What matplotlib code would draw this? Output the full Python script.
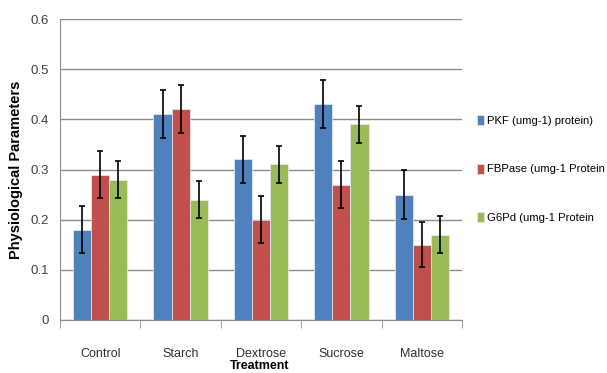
import matplotlib
matplotlib.use("Agg")
import matplotlib.pyplot as plt
import numpy as np

treatments = ["Control", "Starch", "Dextrose", "Sucrose", "Maltose"]
series_names = ["PKF (umg-1) protein)", "FBPase (umg-1 Protein", "G6Pd (umg-1 Protein"]
pkf = [0.18, 0.41, 0.32, 0.43, 0.25]
fbpase = [0.29, 0.42, 0.20, 0.27, 0.15]
g6pd = [0.28, 0.24, 0.31, 0.39, 0.17]
pkf_err = [0.047, 0.048, 0.047, 0.048, 0.049]
fbpase_err = [0.046, 0.048, 0.047, 0.047, 0.045]
g6pd_err = [0.037, 0.037, 0.037, 0.037, 0.037]
colors = ["#4F81BD", "#C0504D", "#9BBB59"]

plt.rcParams["font.family"] = ["Liberation Sans", "DejaVu Sans"]

fig = plt.figure(figsize=(6.07, 3.73), dpi=100)
ax = fig.add_axes([60 / 607, 1 - 320 / 373, 402 / 607, 301 / 373])

x = np.arange(len(treatments))
w = 0.225
for i, (vals, errs) in enumerate([(pkf, pkf_err), (fbpase, fbpase_err), (g6pd, g6pd_err)]):
    ax.bar(x + (i - 1) * w, vals, w, color=colors[i], edgecolor="#e8eef5", linewidth=0.5,
           label=series_names[i], zorder=2)
    ax.errorbar(x + (i - 1) * w, vals, yerr=errs, fmt="none", ecolor="black",
                elinewidth=1.2, capsize=2.5, capthick=1.2, zorder=3)

ax.set_xlim(-0.5, len(treatments) - 0.5)
ax.set_ylim(0, 0.6)
ax.set_yticks(np.arange(0, 0.61, 0.1))
ax.set_yticklabels(["0", "0.1", "0.2", "0.3", "0.4", "0.5", "0.6"], fontsize=9.5, color="#404040")
ax.yaxis.grid(True, color="#8c8c8c", linewidth=1, zorder=0)
ax.set_axisbelow(True)

ax.set_xticks(x)
ax.set_xticklabels(treatments, fontsize=9, color="#303030")
ax.set_xticks(np.arange(-0.5, len(treatments)), minor=True)
ax.tick_params(axis="x", which="major", length=0, pad=20)
ax.tick_params(axis="x", which="minor", length=6, color="#8c8c8c")
ax.tick_params(axis="y", length=0, pad=8)

for side in ["top", "right"]:
    ax.spines[side].set_visible(False)
for side in ["left", "bottom"]:
    ax.spines[side].set_color("#8c8c8c")

fig.text(260 / 607, 1 - 366 / 373, "Treatment", ha="center", va="center",
         fontsize=9, fontweight="bold")
fig.text(16 / 607, 1 - 170 / 373, "Physiological Parameters", rotation=90,
         ha="center", va="center", fontsize=10.5, fontweight="bold")

fig.legend(loc="upper left", bbox_to_anchor=(477 / 607, 1 - 115 / 373), frameon=False,
           fontsize=8.1, handlelength=0.6, handleheight=1.0, handletextpad=0.25,
           labelspacing=3.35, borderpad=0, borderaxespad=0)

fig.savefig("out.png", dpi=100)
